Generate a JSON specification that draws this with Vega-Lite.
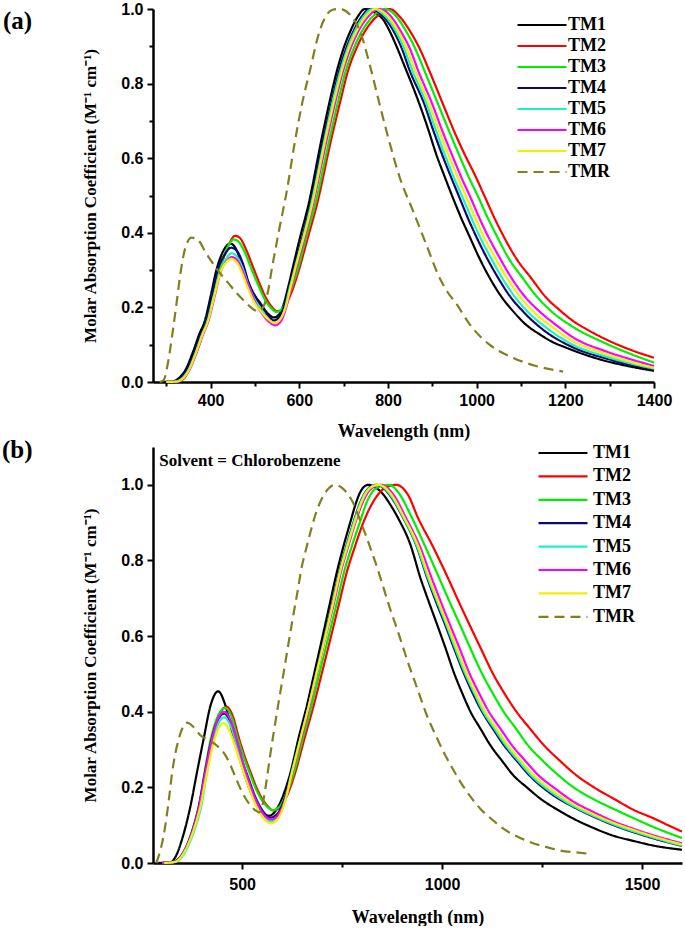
{
"$schema":"https://vega.github.io/schema/vega-lite/v6.json",
"background":"white",
"padding":{"left":2,"top":1,"right":0,"bottom":0},
"bounds":"flush",
"spacing":65,
"resolve":{"scale":{"color":"independent","strokeDash":"independent"},"legend":{"color":"independent","strokeDash":"independent"}},
"config":{
 "view":{"stroke":null},
 "axis":{"domainColor":"black","domainWidth":2.5,"tickColor":"black","tickWidth":2,"labelColor":"black","labelFont":"Liberation Sans","labelFontWeight":"bold","labelFontSize":16,"titleFont":"Liberation Serif","titleFontWeight":"bold","titleFontSize":17,"titleColor":"black","grid":false,"labelOverlap":false,"labelFlush":false},
 "legend":{"padding":0,"symbolType":"M-4,0H4","symbolSize":150,"symbolStrokeWidth":2.2,"labelFont":"Liberation Serif","labelFontWeight":"bold","labelFontSize":18,"labelColor":"black","title":null}
},
"datasets":{
"a":[
{"s":"TM1","w":290,"v":0},{"s":"TM1","w":312,"v":0.001},{"s":"TM1","w":330,"v":0.012},{"s":"TM1","w":342,"v":0.03},{"s":"TM1","w":360,"v":0.08},{"s":"TM1","w":375,"v":0.13},{"s":"TM1","w":387,"v":0.164},{"s":"TM1","w":400,"v":0.23},{"s":"TM1","w":413,"v":0.3},{"s":"TM1","w":428,"v":0.35},{"s":"TM1","w":444,"v":0.371},{"s":"TM1","w":458,"v":0.355},{"s":"TM1","w":470,"v":0.315},{"s":"TM1","w":483,"v":0.27},{"s":"TM1","w":498,"v":0.235},{"s":"TM1","w":513,"v":0.21},{"s":"TM1","w":528,"v":0.185},{"s":"TM1","w":543,"v":0.173},{"s":"TM1","w":555,"v":0.182},{"s":"TM1","w":565,"v":0.21},{"s":"TM1","w":575,"v":0.255},{"s":"TM1","w":584,"v":0.3},{"s":"TM1","w":600,"v":0.38},{"s":"TM1","w":621,"v":0.477},{"s":"TM1","w":651,"v":0.656},{"s":"TM1","w":668,"v":0.75},{"s":"TM1","w":685,"v":0.835},{"s":"TM1","w":700,"v":0.895},{"s":"TM1","w":715,"v":0.94},{"s":"TM1","w":732,"v":0.98},{"s":"TM1","w":748,"v":1.0},{"s":"TM1","w":770,"v":0.99},{"s":"TM1","w":790,"v":0.97},{"s":"TM1","w":804,"v":0.94},{"s":"TM1","w":821,"v":0.895},{"s":"TM1","w":838,"v":0.845},{"s":"TM1","w":855,"v":0.795},{"s":"TM1","w":871,"v":0.745},{"s":"TM1","w":890,"v":0.68},{"s":"TM1","w":909,"v":0.61},{"s":"TM1","w":928,"v":0.55},{"s":"TM1","w":946,"v":0.495},{"s":"TM1","w":965,"v":0.44},{"s":"TM1","w":984,"v":0.39},{"s":"TM1","w":1005,"v":0.335},{"s":"TM1","w":1029,"v":0.28},{"s":"TM1","w":1055,"v":0.23},{"s":"TM1","w":1082,"v":0.19},{"s":"TM1","w":1110,"v":0.155},{"s":"TM1","w":1142,"v":0.128},{"s":"TM1","w":1170,"v":0.108},{"s":"TM1","w":1202,"v":0.092},{"s":"TM1","w":1240,"v":0.075},{"s":"TM1","w":1277,"v":0.061},{"s":"TM1","w":1340,"v":0.043},{"s":"TM1","w":1400,"v":0.03},
{"s":"TM2","w":300,"v":0},{"s":"TM2","w":325,"v":0.002},{"s":"TM2","w":340,"v":0.01},{"s":"TM2","w":350,"v":0.03},{"s":"TM2","w":365,"v":0.07},{"s":"TM2","w":380,"v":0.12},{"s":"TM2","w":392,"v":0.164},{"s":"TM2","w":405,"v":0.23},{"s":"TM2","w":420,"v":0.3},{"s":"TM2","w":435,"v":0.35},{"s":"TM2","w":445,"v":0.378},{"s":"TM2","w":455,"v":0.392},{"s":"TM2","w":466,"v":0.386},{"s":"TM2","w":480,"v":0.355},{"s":"TM2","w":495,"v":0.31},{"s":"TM2","w":510,"v":0.265},{"s":"TM2","w":525,"v":0.225},{"s":"TM2","w":537,"v":0.203},{"s":"TM2","w":550,"v":0.19},{"s":"TM2","w":562,"v":0.195},{"s":"TM2","w":575,"v":0.22},{"s":"TM2","w":587,"v":0.255},{"s":"TM2","w":599,"v":0.3},{"s":"TM2","w":620,"v":0.39},{"s":"TM2","w":640,"v":0.477},{"s":"TM2","w":673,"v":0.656},{"s":"TM2","w":692,"v":0.75},{"s":"TM2","w":710,"v":0.835},{"s":"TM2","w":729,"v":0.895},{"s":"TM2","w":748,"v":0.94},{"s":"TM2","w":775,"v":0.98},{"s":"TM2","w":804,"v":1.0},{"s":"TM2","w":826,"v":0.98},{"s":"TM2","w":850,"v":0.94},{"s":"TM2","w":871,"v":0.895},{"s":"TM2","w":893,"v":0.835},{"s":"TM2","w":924,"v":0.745},{"s":"TM2","w":950,"v":0.67},{"s":"TM2","w":973,"v":0.61},{"s":"TM2","w":996,"v":0.555},{"s":"TM2","w":1019,"v":0.495},{"s":"TM2","w":1040,"v":0.44},{"s":"TM2","w":1061,"v":0.39},{"s":"TM2","w":1090,"v":0.33},{"s":"TM2","w":1122,"v":0.28},{"s":"TM2","w":1157,"v":0.226},{"s":"TM2","w":1190,"v":0.19},{"s":"TM2","w":1217,"v":0.164},{"s":"TM2","w":1250,"v":0.14},{"s":"TM2","w":1292,"v":0.114},{"s":"TM2","w":1350,"v":0.085},{"s":"TM2","w":1400,"v":0.065},
{"s":"TM3","w":300,"v":0},{"s":"TM3","w":325,"v":0.002},{"s":"TM3","w":340,"v":0.01},{"s":"TM3","w":348,"v":0.03},{"s":"TM3","w":363,"v":0.07},{"s":"TM3","w":378,"v":0.12},{"s":"TM3","w":391,"v":0.164},{"s":"TM3","w":405,"v":0.235},{"s":"TM3","w":419,"v":0.3},{"s":"TM3","w":434,"v":0.35},{"s":"TM3","w":443,"v":0.372},{"s":"TM3","w":452,"v":0.382},{"s":"TM3","w":463,"v":0.376},{"s":"TM3","w":478,"v":0.345},{"s":"TM3","w":493,"v":0.3},{"s":"TM3","w":508,"v":0.258},{"s":"TM3","w":523,"v":0.22},{"s":"TM3","w":535,"v":0.2},{"s":"TM3","w":548,"v":0.188},{"s":"TM3","w":560,"v":0.195},{"s":"TM3","w":572,"v":0.22},{"s":"TM3","w":584,"v":0.256},{"s":"TM3","w":596,"v":0.3},{"s":"TM3","w":616,"v":0.39},{"s":"TM3","w":636,"v":0.477},{"s":"TM3","w":669,"v":0.656},{"s":"TM3","w":687,"v":0.75},{"s":"TM3","w":705,"v":0.835},{"s":"TM3","w":723,"v":0.895},{"s":"TM3","w":741,"v":0.94},{"s":"TM3","w":766,"v":0.98},{"s":"TM3","w":793,"v":1.0},{"s":"TM3","w":815,"v":0.985},{"s":"TM3","w":841,"v":0.94},{"s":"TM3","w":861,"v":0.895},{"s":"TM3","w":882,"v":0.835},{"s":"TM3","w":913,"v":0.745},{"s":"TM3","w":937,"v":0.675},{"s":"TM3","w":960,"v":0.61},{"s":"TM3","w":982,"v":0.55},{"s":"TM3","w":1004,"v":0.495},{"s":"TM3","w":1025,"v":0.44},{"s":"TM3","w":1046,"v":0.39},{"s":"TM3","w":1073,"v":0.33},{"s":"TM3","w":1103,"v":0.28},{"s":"TM3","w":1135,"v":0.23},{"s":"TM3","w":1168,"v":0.19},{"s":"TM3","w":1217,"v":0.148},{"s":"TM3","w":1292,"v":0.103},{"s":"TM3","w":1350,"v":0.074},{"s":"TM3","w":1400,"v":0.052},
{"s":"TM4","w":295,"v":0},{"s":"TM4","w":315,"v":0.001},{"s":"TM4","w":332,"v":0.01},{"s":"TM4","w":345,"v":0.03},{"s":"TM4","w":362,"v":0.075},{"s":"TM4","w":377,"v":0.125},{"s":"TM4","w":390,"v":0.164},{"s":"TM4","w":403,"v":0.23},{"s":"TM4","w":416,"v":0.3},{"s":"TM4","w":431,"v":0.34},{"s":"TM4","w":446,"v":0.36},{"s":"TM4","w":460,"v":0.35},{"s":"TM4","w":472,"v":0.32},{"s":"TM4","w":485,"v":0.27},{"s":"TM4","w":500,"v":0.23},{"s":"TM4","w":515,"v":0.203},{"s":"TM4","w":530,"v":0.178},{"s":"TM4","w":543,"v":0.165},{"s":"TM4","w":555,"v":0.175},{"s":"TM4","w":566,"v":0.205},{"s":"TM4","w":577,"v":0.255},{"s":"TM4","w":587,"v":0.3},{"s":"TM4","w":625,"v":0.477},{"s":"TM4","w":655,"v":0.656},{"s":"TM4","w":673,"v":0.75},{"s":"TM4","w":690,"v":0.835},{"s":"TM4","w":706,"v":0.895},{"s":"TM4","w":722,"v":0.94},{"s":"TM4","w":741,"v":0.98},{"s":"TM4","w":759,"v":1.0},{"s":"TM4","w":785,"v":0.985},{"s":"TM4","w":813,"v":0.94},{"s":"TM4","w":831,"v":0.895},{"s":"TM4","w":849,"v":0.835},{"s":"TM4","w":882,"v":0.745},{"s":"TM4","w":902,"v":0.675},{"s":"TM4","w":922,"v":0.61},{"s":"TM4","w":942,"v":0.55},{"s":"TM4","w":961,"v":0.495},{"s":"TM4","w":980,"v":0.44},{"s":"TM4","w":999,"v":0.39},{"s":"TM4","w":1022,"v":0.335},{"s":"TM4","w":1048,"v":0.28},{"s":"TM4","w":1075,"v":0.23},{"s":"TM4","w":1104,"v":0.19},{"s":"TM4","w":1150,"v":0.14},{"s":"TM4","w":1217,"v":0.093},{"s":"TM4","w":1292,"v":0.063},{"s":"TM4","w":1350,"v":0.045},{"s":"TM4","w":1400,"v":0.033},
{"s":"TM5","w":300,"v":0},{"s":"TM5","w":320,"v":0.001},{"s":"TM5","w":336,"v":0.01},{"s":"TM5","w":349,"v":0.03},{"s":"TM5","w":365,"v":0.075},{"s":"TM5","w":380,"v":0.125},{"s":"TM5","w":393,"v":0.164},{"s":"TM5","w":407,"v":0.23},{"s":"TM5","w":422,"v":0.3},{"s":"TM5","w":435,"v":0.33},{"s":"TM5","w":447,"v":0.345},{"s":"TM5","w":460,"v":0.335},{"s":"TM5","w":472,"v":0.305},{"s":"TM5","w":485,"v":0.26},{"s":"TM5","w":500,"v":0.22},{"s":"TM5","w":515,"v":0.192},{"s":"TM5","w":530,"v":0.167},{"s":"TM5","w":543,"v":0.155},{"s":"TM5","w":555,"v":0.163},{"s":"TM5","w":567,"v":0.195},{"s":"TM5","w":578,"v":0.25},{"s":"TM5","w":589,"v":0.3},{"s":"TM5","w":627,"v":0.477},{"s":"TM5","w":658,"v":0.656},{"s":"TM5","w":675,"v":0.75},{"s":"TM5","w":693,"v":0.835},{"s":"TM5","w":709,"v":0.895},{"s":"TM5","w":725,"v":0.94},{"s":"TM5","w":745,"v":0.98},{"s":"TM5","w":765,"v":1.0},{"s":"TM5","w":790,"v":0.985},{"s":"TM5","w":818,"v":0.94},{"s":"TM5","w":836,"v":0.895},{"s":"TM5","w":855,"v":0.835},{"s":"TM5","w":887,"v":0.745},{"s":"TM5","w":908,"v":0.675},{"s":"TM5","w":928,"v":0.61},{"s":"TM5","w":948,"v":0.55},{"s":"TM5","w":968,"v":0.495},{"s":"TM5","w":988,"v":0.44},{"s":"TM5","w":1007,"v":0.39},{"s":"TM5","w":1031,"v":0.335},{"s":"TM5","w":1057,"v":0.28},{"s":"TM5","w":1085,"v":0.23},{"s":"TM5","w":1114,"v":0.19},{"s":"TM5","w":1160,"v":0.143},{"s":"TM5","w":1217,"v":0.1},{"s":"TM5","w":1292,"v":0.068},{"s":"TM5","w":1350,"v":0.049},{"s":"TM5","w":1400,"v":0.036},
{"s":"TM6","w":300,"v":0},{"s":"TM6","w":323,"v":0.001},{"s":"TM6","w":339,"v":0.01},{"s":"TM6","w":351,"v":0.03},{"s":"TM6","w":367,"v":0.075},{"s":"TM6","w":382,"v":0.125},{"s":"TM6","w":395,"v":0.164},{"s":"TM6","w":409,"v":0.23},{"s":"TM6","w":424,"v":0.3},{"s":"TM6","w":437,"v":0.325},{"s":"TM6","w":448,"v":0.335},{"s":"TM6","w":460,"v":0.326},{"s":"TM6","w":472,"v":0.298},{"s":"TM6","w":485,"v":0.258},{"s":"TM6","w":500,"v":0.215},{"s":"TM6","w":515,"v":0.185},{"s":"TM6","w":531,"v":0.162},{"s":"TM6","w":546,"v":0.152},{"s":"TM6","w":558,"v":0.162},{"s":"TM6","w":570,"v":0.198},{"s":"TM6","w":581,"v":0.25},{"s":"TM6","w":592,"v":0.3},{"s":"TM6","w":631,"v":0.477},{"s":"TM6","w":663,"v":0.656},{"s":"TM6","w":681,"v":0.75},{"s":"TM6","w":699,"v":0.835},{"s":"TM6","w":716,"v":0.895},{"s":"TM6","w":733,"v":0.94},{"s":"TM6","w":756,"v":0.98},{"s":"TM6","w":779,"v":1.0},{"s":"TM6","w":803,"v":0.985},{"s":"TM6","w":829,"v":0.94},{"s":"TM6","w":849,"v":0.895},{"s":"TM6","w":868,"v":0.835},{"s":"TM6","w":900,"v":0.745},{"s":"TM6","w":922,"v":0.675},{"s":"TM6","w":944,"v":0.61},{"s":"TM6","w":965,"v":0.55},{"s":"TM6","w":986,"v":0.495},{"s":"TM6","w":1006,"v":0.44},{"s":"TM6","w":1026,"v":0.39},{"s":"TM6","w":1051,"v":0.335},{"s":"TM6","w":1078,"v":0.28},{"s":"TM6","w":1108,"v":0.23},{"s":"TM6","w":1141,"v":0.19},{"s":"TM6","w":1180,"v":0.152},{"s":"TM6","w":1217,"v":0.12},{"s":"TM6","w":1292,"v":0.082},{"s":"TM6","w":1350,"v":0.06},{"s":"TM6","w":1400,"v":0.043},
{"s":"TM7","w":300,"v":0},{"s":"TM7","w":322,"v":0.001},{"s":"TM7","w":338,"v":0.01},{"s":"TM7","w":350,"v":0.03},{"s":"TM7","w":366,"v":0.075},{"s":"TM7","w":381,"v":0.125},{"s":"TM7","w":394,"v":0.164},{"s":"TM7","w":408,"v":0.23},{"s":"TM7","w":424,"v":0.3},{"s":"TM7","w":436,"v":0.322},{"s":"TM7","w":446,"v":0.33},{"s":"TM7","w":458,"v":0.322},{"s":"TM7","w":470,"v":0.295},{"s":"TM7","w":483,"v":0.255},{"s":"TM7","w":498,"v":0.215},{"s":"TM7","w":513,"v":0.19},{"s":"TM7","w":530,"v":0.168},{"s":"TM7","w":545,"v":0.158},{"s":"TM7","w":557,"v":0.168},{"s":"TM7","w":569,"v":0.2},{"s":"TM7","w":580,"v":0.252},{"s":"TM7","w":590,"v":0.3},{"s":"TM7","w":629,"v":0.477},{"s":"TM7","w":660,"v":0.656},{"s":"TM7","w":678,"v":0.75},{"s":"TM7","w":696,"v":0.835},{"s":"TM7","w":712,"v":0.895},{"s":"TM7","w":729,"v":0.94},{"s":"TM7","w":750,"v":0.98},{"s":"TM7","w":772,"v":1.0},{"s":"TM7","w":796,"v":0.985},{"s":"TM7","w":823,"v":0.94},{"s":"TM7","w":842,"v":0.895},{"s":"TM7","w":861,"v":0.835},{"s":"TM7","w":893,"v":0.745},{"s":"TM7","w":915,"v":0.675},{"s":"TM7","w":936,"v":0.61},{"s":"TM7","w":957,"v":0.55},{"s":"TM7","w":977,"v":0.495},{"s":"TM7","w":997,"v":0.44},{"s":"TM7","w":1016,"v":0.39},{"s":"TM7","w":1041,"v":0.335},{"s":"TM7","w":1068,"v":0.28},{"s":"TM7","w":1097,"v":0.23},{"s":"TM7","w":1127,"v":0.19},{"s":"TM7","w":1170,"v":0.148},{"s":"TM7","w":1217,"v":0.11},{"s":"TM7","w":1292,"v":0.075},{"s":"TM7","w":1350,"v":0.053},{"s":"TM7","w":1400,"v":0.038},
{"s":"TMR","w":285,"v":0},{"s":"TMR","w":294,"v":0.005},{"s":"TMR","w":305,"v":0.06},{"s":"TMR","w":315,"v":0.14},{"s":"TMR","w":323,"v":0.21},{"s":"TMR","w":333,"v":0.3},{"s":"TMR","w":343,"v":0.36},{"s":"TMR","w":357,"v":0.387},{"s":"TMR","w":372,"v":0.38},{"s":"TMR","w":390,"v":0.345},{"s":"TMR","w":416,"v":0.3},{"s":"TMR","w":440,"v":0.265},{"s":"TMR","w":461,"v":0.235},{"s":"TMR","w":478,"v":0.215},{"s":"TMR","w":491,"v":0.2},{"s":"TMR","w":506,"v":0.19},{"s":"TMR","w":518,"v":0.2},{"s":"TMR","w":528,"v":0.235},{"s":"TMR","w":539,"v":0.31},{"s":"TMR","w":554,"v":0.405},{"s":"TMR","w":573,"v":0.52},{"s":"TMR","w":588,"v":0.63},{"s":"TMR","w":606,"v":0.745},{"s":"TMR","w":625,"v":0.84},{"s":"TMR","w":643,"v":0.93},{"s":"TMR","w":662,"v":0.985},{"s":"TMR","w":675,"v":0.998},{"s":"TMR","w":688,"v":1.0},{"s":"TMR","w":701,"v":0.997},{"s":"TMR","w":714,"v":0.985},{"s":"TMR","w":737,"v":0.94},{"s":"TMR","w":759,"v":0.85},{"s":"TMR","w":781,"v":0.745},{"s":"TMR","w":804,"v":0.64},{"s":"TMR","w":826,"v":0.55},{"s":"TMR","w":856,"v":0.46},{"s":"TMR","w":886,"v":0.37},{"s":"TMR","w":916,"v":0.28},{"s":"TMR","w":935,"v":0.24},{"s":"TMR","w":954,"v":0.21},{"s":"TMR","w":984,"v":0.155},{"s":"TMR","w":1029,"v":0.1},{"s":"TMR","w":1082,"v":0.065},{"s":"TMR","w":1134,"v":0.043},{"s":"TMR","w":1195,"v":0.028}
],
"b":[
{"s":"TM1","w":290,"v":0},{"s":"TM1","w":321,"v":0.002},{"s":"TM1","w":335,"v":0.02},{"s":"TM1","w":350,"v":0.064},{"s":"TM1","w":371,"v":0.152},{"s":"TM1","w":387,"v":0.24},{"s":"TM1","w":404,"v":0.33},{"s":"TM1","w":421,"v":0.417},{"s":"TM1","w":440,"v":0.454},{"s":"TM1","w":458,"v":0.417},{"s":"TM1","w":479,"v":0.33},{"s":"TM1","w":504,"v":0.24},{"s":"TM1","w":529,"v":0.17},{"s":"TM1","w":548,"v":0.137},{"s":"TM1","w":567,"v":0.125},{"s":"TM1","w":585,"v":0.14},{"s":"TM1","w":603,"v":0.18},{"s":"TM1","w":621,"v":0.24},{"s":"TM1","w":641,"v":0.33},{"s":"TM1","w":662,"v":0.417},{"s":"TM1","w":681,"v":0.505},{"s":"TM1","w":700,"v":0.594},{"s":"TM1","w":718,"v":0.68},{"s":"TM1","w":737,"v":0.77},{"s":"TM1","w":754,"v":0.84},{"s":"TM1","w":771,"v":0.903},{"s":"TM1","w":784,"v":0.95},{"s":"TM1","w":796,"v":0.982},{"s":"TM1","w":806,"v":0.996},{"s":"TM1","w":816,"v":1.0},{"s":"TM1","w":835,"v":0.992},{"s":"TM1","w":854,"v":0.973},{"s":"TM1","w":872,"v":0.945},{"s":"TM1","w":890,"v":0.912},{"s":"TM1","w":921,"v":0.841},{"s":"TM1","w":946,"v":0.753},{"s":"TM1","w":967,"v":0.69},{"s":"TM1","w":988,"v":0.629},{"s":"TM1","w":1009,"v":0.567},{"s":"TM1","w":1029,"v":0.505},{"s":"TM1","w":1050,"v":0.45},{"s":"TM1","w":1071,"v":0.4},{"s":"TM1","w":1096,"v":0.355},{"s":"TM1","w":1121,"v":0.311},{"s":"TM1","w":1150,"v":0.27},{"s":"TM1","w":1179,"v":0.231},{"s":"TM1","w":1212,"v":0.2},{"s":"TM1","w":1246,"v":0.17},{"s":"TM1","w":1290,"v":0.14},{"s":"TM1","w":1329,"v":0.117},{"s":"TM1","w":1380,"v":0.092},{"s":"TM1","w":1429,"v":0.072},{"s":"TM1","w":1480,"v":0.058},{"s":"TM1","w":1529,"v":0.046},{"s":"TM1","w":1600,"v":0.035},
{"s":"TM2","w":300,"v":0},{"s":"TM2","w":330,"v":0.003},{"s":"TM2","w":350,"v":0.02},{"s":"TM2","w":365,"v":0.05},{"s":"TM2","w":380,"v":0.095},{"s":"TM2","w":396,"v":0.152},{"s":"TM2","w":410,"v":0.24},{"s":"TM2","w":425,"v":0.33},{"s":"TM2","w":442,"v":0.39},{"s":"TM2","w":461,"v":0.413},{"s":"TM2","w":476,"v":0.39},{"s":"TM2","w":492,"v":0.33},{"s":"TM2","w":507,"v":0.28},{"s":"TM2","w":521,"v":0.24},{"s":"TM2","w":540,"v":0.19},{"s":"TM2","w":560,"v":0.155},{"s":"TM2","w":579,"v":0.139},{"s":"TM2","w":597,"v":0.15},{"s":"TM2","w":615,"v":0.185},{"s":"TM2","w":633,"v":0.24},{"s":"TM2","w":656,"v":0.33},{"s":"TM2","w":679,"v":0.417},{"s":"TM2","w":700,"v":0.505},{"s":"TM2","w":721,"v":0.594},{"s":"TM2","w":741,"v":0.68},{"s":"TM2","w":762,"v":0.77},{"s":"TM2","w":783,"v":0.84},{"s":"TM2","w":804,"v":0.903},{"s":"TM2","w":825,"v":0.95},{"s":"TM2","w":846,"v":0.982},{"s":"TM2","w":866,"v":0.996},{"s":"TM2","w":886,"v":1.0},{"s":"TM2","w":900,"v":0.993},{"s":"TM2","w":915,"v":0.973},{"s":"TM2","w":940,"v":0.912},{"s":"TM2","w":975,"v":0.841},{"s":"TM2","w":1015,"v":0.753},{"s":"TM2","w":1042,"v":0.69},{"s":"TM2","w":1069,"v":0.629},{"s":"TM2","w":1097,"v":0.567},{"s":"TM2","w":1125,"v":0.505},{"s":"TM2","w":1155,"v":0.45},{"s":"TM2","w":1186,"v":0.4},{"s":"TM2","w":1220,"v":0.355},{"s":"TM2","w":1255,"v":0.311},{"s":"TM2","w":1295,"v":0.27},{"s":"TM2","w":1337,"v":0.231},{"s":"TM2","w":1380,"v":0.2},{"s":"TM2","w":1429,"v":0.17},{"s":"TM2","w":1480,"v":0.14},{"s":"TM2","w":1529,"v":0.118},{"s":"TM2","w":1565,"v":0.1},{"s":"TM2","w":1600,"v":0.083},
{"s":"TM3","w":300,"v":0},{"s":"TM3","w":328,"v":0.003},{"s":"TM3","w":348,"v":0.02},{"s":"TM3","w":363,"v":0.05},{"s":"TM3","w":378,"v":0.095},{"s":"TM3","w":392,"v":0.152},{"s":"TM3","w":406,"v":0.24},{"s":"TM3","w":422,"v":0.33},{"s":"TM3","w":439,"v":0.388},{"s":"TM3","w":458,"v":0.41},{"s":"TM3","w":473,"v":0.388},{"s":"TM3","w":489,"v":0.33},{"s":"TM3","w":504,"v":0.28},{"s":"TM3","w":518,"v":0.24},{"s":"TM3","w":537,"v":0.19},{"s":"TM3","w":557,"v":0.155},{"s":"TM3","w":577,"v":0.14},{"s":"TM3","w":594,"v":0.15},{"s":"TM3","w":612,"v":0.185},{"s":"TM3","w":630,"v":0.24},{"s":"TM3","w":652,"v":0.33},{"s":"TM3","w":674,"v":0.417},{"s":"TM3","w":694,"v":0.505},{"s":"TM3","w":715,"v":0.594},{"s":"TM3","w":735,"v":0.68},{"s":"TM3","w":755,"v":0.77},{"s":"TM3","w":775,"v":0.84},{"s":"TM3","w":795,"v":0.903},{"s":"TM3","w":810,"v":0.95},{"s":"TM3","w":826,"v":0.982},{"s":"TM3","w":846,"v":0.996},{"s":"TM3","w":866,"v":1.0},{"s":"TM3","w":881,"v":0.992},{"s":"TM3","w":895,"v":0.973},{"s":"TM3","w":925,"v":0.912},{"s":"TM3","w":956,"v":0.841},{"s":"TM3","w":993,"v":0.753},{"s":"TM3","w":1019,"v":0.69},{"s":"TM3","w":1045,"v":0.629},{"s":"TM3","w":1071,"v":0.567},{"s":"TM3","w":1098,"v":0.505},{"s":"TM3","w":1126,"v":0.45},{"s":"TM3","w":1154,"v":0.4},{"s":"TM3","w":1185,"v":0.355},{"s":"TM3","w":1215,"v":0.311},{"s":"TM3","w":1252,"v":0.27},{"s":"TM3","w":1292,"v":0.231},{"s":"TM3","w":1329,"v":0.2},{"s":"TM3","w":1380,"v":0.168},{"s":"TM3","w":1429,"v":0.143},{"s":"TM3","w":1480,"v":0.118},{"s":"TM3","w":1529,"v":0.095},{"s":"TM3","w":1600,"v":0.066},
{"s":"TM4","w":300,"v":0},{"s":"TM4","w":328,"v":0.003},{"s":"TM4","w":348,"v":0.02},{"s":"TM4","w":363,"v":0.05},{"s":"TM4","w":378,"v":0.095},{"s":"TM4","w":392,"v":0.152},{"s":"TM4","w":407,"v":0.24},{"s":"TM4","w":424,"v":0.33},{"s":"TM4","w":440,"v":0.38},{"s":"TM4","w":455,"v":0.395},{"s":"TM4","w":470,"v":0.375},{"s":"TM4","w":487,"v":0.32},{"s":"TM4","w":502,"v":0.265},{"s":"TM4","w":517,"v":0.22},{"s":"TM4","w":535,"v":0.17},{"s":"TM4","w":552,"v":0.137},{"s":"TM4","w":570,"v":0.12},{"s":"TM4","w":588,"v":0.13},{"s":"TM4","w":606,"v":0.17},{"s":"TM4","w":624,"v":0.24},{"s":"TM4","w":645,"v":0.33},{"s":"TM4","w":666,"v":0.417},{"s":"TM4","w":685,"v":0.505},{"s":"TM4","w":705,"v":0.594},{"s":"TM4","w":724,"v":0.68},{"s":"TM4","w":743,"v":0.77},{"s":"TM4","w":761,"v":0.84},{"s":"TM4","w":779,"v":0.903},{"s":"TM4","w":794,"v":0.95},{"s":"TM4","w":809,"v":0.982},{"s":"TM4","w":823,"v":0.996},{"s":"TM4","w":837,"v":1.0},{"s":"TM4","w":853,"v":0.992},{"s":"TM4","w":869,"v":0.973},{"s":"TM4","w":903,"v":0.912},{"s":"TM4","w":935,"v":0.841},{"s":"TM4","w":963,"v":0.753},{"s":"TM4","w":985,"v":0.69},{"s":"TM4","w":1008,"v":0.629},{"s":"TM4","w":1030,"v":0.567},{"s":"TM4","w":1053,"v":0.505},{"s":"TM4","w":1076,"v":0.45},{"s":"TM4","w":1100,"v":0.4},{"s":"TM4","w":1127,"v":0.355},{"s":"TM4","w":1155,"v":0.311},{"s":"TM4","w":1187,"v":0.27},{"s":"TM4","w":1219,"v":0.231},{"s":"TM4","w":1270,"v":0.185},{"s":"TM4","w":1329,"v":0.148},{"s":"TM4","w":1380,"v":0.122},{"s":"TM4","w":1429,"v":0.1},{"s":"TM4","w":1480,"v":0.081},{"s":"TM4","w":1529,"v":0.065},{"s":"TM4","w":1600,"v":0.045},
{"s":"TM5","w":310,"v":0},{"s":"TM5","w":335,"v":0.003},{"s":"TM5","w":352,"v":0.02},{"s":"TM5","w":367,"v":0.05},{"s":"TM5","w":383,"v":0.095},{"s":"TM5","w":398,"v":0.152},{"s":"TM5","w":412,"v":0.24},{"s":"TM5","w":428,"v":0.33},{"s":"TM5","w":442,"v":0.372},{"s":"TM5","w":455,"v":0.385},{"s":"TM5","w":470,"v":0.365},{"s":"TM5","w":487,"v":0.31},{"s":"TM5","w":502,"v":0.255},{"s":"TM5","w":517,"v":0.21},{"s":"TM5","w":535,"v":0.16},{"s":"TM5","w":553,"v":0.127},{"s":"TM5","w":572,"v":0.11},{"s":"TM5","w":590,"v":0.122},{"s":"TM5","w":607,"v":0.165},{"s":"TM5","w":624,"v":0.24},{"s":"TM5","w":646,"v":0.33},{"s":"TM5","w":667,"v":0.417},{"s":"TM5","w":686,"v":0.505},{"s":"TM5","w":706,"v":0.594},{"s":"TM5","w":725,"v":0.68},{"s":"TM5","w":744,"v":0.77},{"s":"TM5","w":762,"v":0.84},{"s":"TM5","w":780,"v":0.903},{"s":"TM5","w":795,"v":0.95},{"s":"TM5","w":810,"v":0.982},{"s":"TM5","w":825,"v":0.996},{"s":"TM5","w":839,"v":1.0},{"s":"TM5","w":855,"v":0.992},{"s":"TM5","w":871,"v":0.973},{"s":"TM5","w":904,"v":0.912},{"s":"TM5","w":936,"v":0.841},{"s":"TM5","w":965,"v":0.753},{"s":"TM5","w":988,"v":0.69},{"s":"TM5","w":1011,"v":0.629},{"s":"TM5","w":1033,"v":0.567},{"s":"TM5","w":1056,"v":0.505},{"s":"TM5","w":1080,"v":0.45},{"s":"TM5","w":1103,"v":0.4},{"s":"TM5","w":1131,"v":0.355},{"s":"TM5","w":1159,"v":0.311},{"s":"TM5","w":1191,"v":0.27},{"s":"TM5","w":1223,"v":0.231},{"s":"TM5","w":1272,"v":0.188},{"s":"TM5","w":1329,"v":0.15},{"s":"TM5","w":1380,"v":0.124},{"s":"TM5","w":1429,"v":0.102},{"s":"TM5","w":1480,"v":0.083},{"s":"TM5","w":1529,"v":0.067},{"s":"TM5","w":1600,"v":0.046},
{"s":"TM6","w":300,"v":0},{"s":"TM6","w":330,"v":0.003},{"s":"TM6","w":349,"v":0.02},{"s":"TM6","w":364,"v":0.05},{"s":"TM6","w":379,"v":0.095},{"s":"TM6","w":393,"v":0.152},{"s":"TM6","w":408,"v":0.24},{"s":"TM6","w":425,"v":0.33},{"s":"TM6","w":441,"v":0.385},{"s":"TM6","w":455,"v":0.4},{"s":"TM6","w":470,"v":0.38},{"s":"TM6","w":487,"v":0.322},{"s":"TM6","w":502,"v":0.265},{"s":"TM6","w":517,"v":0.215},{"s":"TM6","w":535,"v":0.165},{"s":"TM6","w":553,"v":0.13},{"s":"TM6","w":572,"v":0.115},{"s":"TM6","w":590,"v":0.127},{"s":"TM6","w":608,"v":0.168},{"s":"TM6","w":626,"v":0.24},{"s":"TM6","w":648,"v":0.33},{"s":"TM6","w":669,"v":0.417},{"s":"TM6","w":688,"v":0.505},{"s":"TM6","w":708,"v":0.594},{"s":"TM6","w":728,"v":0.68},{"s":"TM6","w":747,"v":0.77},{"s":"TM6","w":766,"v":0.84},{"s":"TM6","w":784,"v":0.903},{"s":"TM6","w":800,"v":0.95},{"s":"TM6","w":816,"v":0.982},{"s":"TM6","w":832,"v":0.996},{"s":"TM6","w":847,"v":1.0},{"s":"TM6","w":863,"v":0.992},{"s":"TM6","w":879,"v":0.973},{"s":"TM6","w":910,"v":0.912},{"s":"TM6","w":943,"v":0.841},{"s":"TM6","w":974,"v":0.753},{"s":"TM6","w":997,"v":0.69},{"s":"TM6","w":1020,"v":0.629},{"s":"TM6","w":1044,"v":0.567},{"s":"TM6","w":1067,"v":0.505},{"s":"TM6","w":1092,"v":0.45},{"s":"TM6","w":1117,"v":0.4},{"s":"TM6","w":1146,"v":0.355},{"s":"TM6","w":1175,"v":0.311},{"s":"TM6","w":1208,"v":0.27},{"s":"TM6","w":1242,"v":0.231},{"s":"TM6","w":1285,"v":0.195},{"s":"TM6","w":1329,"v":0.162},{"s":"TM6","w":1380,"v":0.134},{"s":"TM6","w":1429,"v":0.11},{"s":"TM6","w":1480,"v":0.09},{"s":"TM6","w":1529,"v":0.073},{"s":"TM6","w":1600,"v":0.052},
{"s":"TM7","w":305,"v":0},{"s":"TM7","w":332,"v":0.003},{"s":"TM7","w":350,"v":0.02},{"s":"TM7","w":365,"v":0.05},{"s":"TM7","w":381,"v":0.095},{"s":"TM7","w":396,"v":0.152},{"s":"TM7","w":412,"v":0.24},{"s":"TM7","w":432,"v":0.33},{"s":"TM7","w":443,"v":0.36},{"s":"TM7","w":453,"v":0.37},{"s":"TM7","w":468,"v":0.35},{"s":"TM7","w":485,"v":0.3},{"s":"TM7","w":500,"v":0.25},{"s":"TM7","w":515,"v":0.205},{"s":"TM7","w":533,"v":0.155},{"s":"TM7","w":552,"v":0.12},{"s":"TM7","w":572,"v":0.105},{"s":"TM7","w":590,"v":0.118},{"s":"TM7","w":607,"v":0.162},{"s":"TM7","w":625,"v":0.24},{"s":"TM7","w":646,"v":0.33},{"s":"TM7","w":667,"v":0.417},{"s":"TM7","w":687,"v":0.505},{"s":"TM7","w":707,"v":0.594},{"s":"TM7","w":726,"v":0.68},{"s":"TM7","w":745,"v":0.77},{"s":"TM7","w":764,"v":0.84},{"s":"TM7","w":782,"v":0.903},{"s":"TM7","w":797,"v":0.95},{"s":"TM7","w":812,"v":0.982},{"s":"TM7","w":827,"v":0.996},{"s":"TM7","w":842,"v":1.0},{"s":"TM7","w":858,"v":0.992},{"s":"TM7","w":874,"v":0.973},{"s":"TM7","w":906,"v":0.912},{"s":"TM7","w":939,"v":0.841},{"s":"TM7","w":968,"v":0.753},{"s":"TM7","w":991,"v":0.69},{"s":"TM7","w":1014,"v":0.629},{"s":"TM7","w":1037,"v":0.567},{"s":"TM7","w":1060,"v":0.505},{"s":"TM7","w":1084,"v":0.45},{"s":"TM7","w":1108,"v":0.4},{"s":"TM7","w":1136,"v":0.355},{"s":"TM7","w":1165,"v":0.311},{"s":"TM7","w":1197,"v":0.27},{"s":"TM7","w":1230,"v":0.231},{"s":"TM7","w":1278,"v":0.19},{"s":"TM7","w":1329,"v":0.155},{"s":"TM7","w":1380,"v":0.128},{"s":"TM7","w":1429,"v":0.106},{"s":"TM7","w":1480,"v":0.087},{"s":"TM7","w":1529,"v":0.07},{"s":"TM7","w":1600,"v":0.049},
{"s":"TMR","w":285,"v":0},{"s":"TMR","w":297,"v":0.04},{"s":"TMR","w":308,"v":0.1},{"s":"TMR","w":317,"v":0.17},{"s":"TMR","w":325,"v":0.24},{"s":"TMR","w":333,"v":0.29},{"s":"TMR","w":342,"v":0.33},{"s":"TMR","w":352,"v":0.36},{"s":"TMR","w":362,"v":0.371},{"s":"TMR","w":378,"v":0.36},{"s":"TMR","w":396,"v":0.337},{"s":"TMR","w":417,"v":0.325},{"s":"TMR","w":437,"v":0.31},{"s":"TMR","w":455,"v":0.29},{"s":"TMR","w":471,"v":0.258},{"s":"TMR","w":484,"v":0.225},{"s":"TMR","w":496,"v":0.196},{"s":"TMR","w":509,"v":0.17},{"s":"TMR","w":521,"v":0.152},{"s":"TMR","w":532,"v":0.14},{"s":"TMR","w":542,"v":0.134},{"s":"TMR","w":550,"v":0.15},{"s":"TMR","w":558,"v":0.196},{"s":"TMR","w":568,"v":0.27},{"s":"TMR","w":579,"v":0.346},{"s":"TMR","w":592,"v":0.43},{"s":"TMR","w":604,"v":0.505},{"s":"TMR","w":615,"v":0.575},{"s":"TMR","w":625,"v":0.638},{"s":"TMR","w":638,"v":0.715},{"s":"TMR","w":650,"v":0.788},{"s":"TMR","w":661,"v":0.835},{"s":"TMR","w":671,"v":0.876},{"s":"TMR","w":686,"v":0.93},{"s":"TMR","w":700,"v":0.965},{"s":"TMR","w":716,"v":0.99},{"s":"TMR","w":733,"v":1.0},{"s":"TMR","w":752,"v":0.99},{"s":"TMR","w":771,"v":0.965},{"s":"TMR","w":783,"v":0.94},{"s":"TMR","w":796,"v":0.903},{"s":"TMR","w":808,"v":0.87},{"s":"TMR","w":821,"v":0.832},{"s":"TMR","w":838,"v":0.78},{"s":"TMR","w":854,"v":0.726},{"s":"TMR","w":870,"v":0.672},{"s":"TMR","w":887,"v":0.62},{"s":"TMR","w":901,"v":0.575},{"s":"TMR","w":917,"v":0.523},{"s":"TMR","w":929,"v":0.488},{"s":"TMR","w":945,"v":0.44},{"s":"TMR","w":962,"v":0.39},{"s":"TMR","w":983,"v":0.34},{"s":"TMR","w":1004,"v":0.293},{"s":"TMR","w":1025,"v":0.252},{"s":"TMR","w":1046,"v":0.214},{"s":"TMR","w":1070,"v":0.177},{"s":"TMR","w":1096,"v":0.143},{"s":"TMR","w":1125,"v":0.115},{"s":"TMR","w":1154,"v":0.09},{"s":"TMR","w":1188,"v":0.07},{"s":"TMR","w":1221,"v":0.055},{"s":"TMR","w":1258,"v":0.043},{"s":"TMR","w":1296,"v":0.033},{"s":"TMR","w":1335,"v":0.028},{"s":"TMR","w":1371,"v":0.024}
]
},
"vconcat":[
{
 "width":501,"height":373,
 "title":{"text":"(a)","anchor":"start","frame":"group","orient":"top","offset":0,"dx":-150,"dy":53,"baseline":"alphabetic","font":"Liberation Serif","fontWeight":"bold","fontSize":25,"color":"black"},
 "data":{"name":"a"},
 "mark":{"type":"line","strokeWidth":2.2,"interpolate":"monotone"},
 "encoding":{
  "x":{"field":"w","type":"quantitative","title":"Wavelength (nm)","scale":{"domain":[270,1400],"nice":false,"zero":false},
   "axis":{"values":[300,400,500,600,700,800,900,1000,1100,1200,1300,1400],"labelExpr":"datum.value % 200 == 0 ? datum.label : ''","format":"d","tickSize":{"condition":{"test":"datum.value % 200 == 0","value":6},"value":4},"labelPadding":4,"titlePadding":14,"titleFontSize":18}},
  "y":{"field":"v","type":"quantitative","title":"Molar Absorption Coefficient (M⁻¹ cm⁻¹)","scale":{"domain":[0,1],"nice":false},
   "axis":{"values":[0,0.1,0.2,0.3,0.4,0.5,0.6,0.7,0.8,0.9,1.0],"format":".1f","labelExpr":"round(datum.value*10) % 2 == 0 ? datum.label : ''","tickSize":{"condition":{"test":"round(datum.value*10) % 2 == 0","value":6},"value":4},"labelPadding":4,"titlePadding":21}},
  "color":{"field":"s","type":"nominal","scale":{"domain":["TM1","TM2","TM3","TM4","TM5","TM6","TM7","TMR"],"range":["#000000","#ff0000","#00ee00","#0a0a70","#1ef0c0","#ff00ff","#f0f000","#808020"]},
   "legend":{"orient":"none","legendX":380,"legendY":7,"rowPadding":3,"labelOffset":17}},
  "strokeDash":{"field":"s","type":"nominal","scale":{"domain":["TM1","TM2","TM3","TM4","TM5","TM6","TM7","TMR"],"range":[[1,0],[1,0],[1,0],[1,0],[1,0],[1,0],[1,0],[10,6]]},
   "legend":{"orient":"none","legendX":380,"legendY":7,"rowPadding":3,"labelOffset":17}}
 }
},
{
 "width":529,"height":416,
 "title":{"text":"(b)","anchor":"start","frame":"group","orient":"top","offset":0,"dx":-151,"dy":39,"baseline":"alphabetic","font":"Liberation Serif","fontWeight":"bold","fontSize":25,"color":"black"},
 "layer":[
 {
 "data":{"name":"b"},
 "mark":{"type":"line","strokeWidth":2.2,"interpolate":"monotone"},
 "encoding":{
  "x":{"field":"w","type":"quantitative","title":"Wavelength (nm)","scale":{"domain":[277,1600],"nice":false,"zero":false},
   "axis":{"values":[500,750,1000,1250,1500],"labelExpr":"datum.value % 500 == 0 ? datum.label : ''","format":"d","tickSize":{"condition":{"test":"datum.value % 500 == 0","value":6},"value":4},"labelPadding":7,"titlePadding":16,"titleFontSize":18}},
  "y":{"field":"v","type":"quantitative","title":"Molar Absorption Coefficient (M⁻¹ cm⁻¹)","scale":{"domain":[0,1.1],"nice":false},
   "axis":{"values":[0,0.1,0.2,0.3,0.4,0.5,0.6,0.7,0.8,0.9,1.0,1.1],"format":".1f","labelExpr":"round(datum.value*10) % 2 == 0 && datum.value < 1.05 ? datum.label : ''","tickSize":{"condition":{"test":"round(datum.value*10) % 2 == 0 && datum.value < 1.05","value":6},"value":4},"labelPadding":4,"titlePadding":21}},
  "color":{"field":"s","type":"nominal","scale":{"domain":["TM1","TM2","TM3","TM4","TM5","TM6","TM7","TMR"],"range":["#000000","#ff0000","#00ee00","#0a0a70","#1ef0c0","#ff00ff","#f0f000","#808020"]},
   "legend":{"orient":"none","legendX":401,"legendY":-3,"rowPadding":5.4,"labelOffset":21}},
  "strokeDash":{"field":"s","type":"nominal","scale":{"domain":["TM1","TM2","TM3","TM4","TM5","TM6","TM7","TMR"],"range":[[1,0],[1,0],[1,0],[1,0],[1,0],[1,0],[1,0],[10,6]]},
   "legend":{"orient":"none","legendX":401,"legendY":-3,"rowPadding":5.4,"labelOffset":21}}
 }
 },
 {
 "data":{"values":[{"t":"Solvent = Chlorobenzene"}]},
 "mark":{"type":"text","align":"left","baseline":"middle","dx":3,"font":"Liberation Serif","fontWeight":"bold","fontSize":17,"color":"black"},
 "encoding":{"x":{"datum":285},"y":{"datum":1.062},"text":{"field":"t"}}
 }
 ]
}
]
}
